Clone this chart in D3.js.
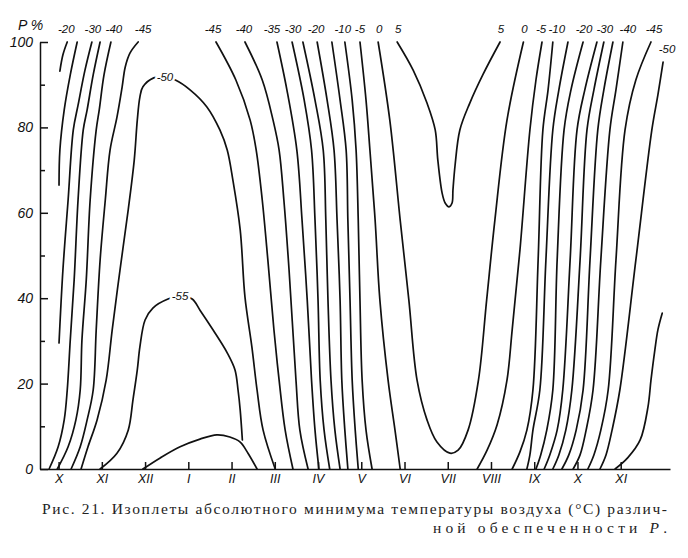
<!DOCTYPE html>
<html>
<head>
<meta charset="utf-8">
<title>Изоплеты абсолютного минимума температуры воздуха</title>
<script src="https://cdn.jsdelivr.net/npm/d3@7"></script>
<style>
  body { margin: 0; background: #fff; }
  .iso { fill: none; stroke: #111; stroke-width: 1.7; stroke-linecap: round; stroke-linejoin: round; }
  .lab { font-family: "Liberation Sans", Arial, sans-serif; font-style: italic; font-size: 11.5px; fill: #111; }
  .axis path, .axis line { stroke: #111; stroke-width: 1.5; }
  .axis text { font-family: "Liberation Sans", Arial, sans-serif; font-style: italic; fill: #111; }
  .caption { font-family: "Liberation Serif", "DejaVu Serif", serif; font-size: 15.5px; fill: #222; }
</style>
</head>
<body>
<svg id="chart" width="688" height="558"></svg>
<script>
// month ticks (Oct .. Nov of next year), probability ticks
const months = ["X", "XI", "XII", "I", "II", "III", "IV", "V", "VI", "VII", "VIII", "IX", "X", "XI"];
const pTicks = [0, 20, 40, 60, 80, 100];
const pMinor = [10, 30, 50, 70, 90];

// isopleths, points are [month index, P %]
// autumn/winter cooling (left)
const leftM20 = [[0.20,100],[0.10,97],[0.03,93.2]];
const leftM25 = [[0.43,100],[0.27,92.3],[0.13,84.1],[0.03,74.7],[0.01,66.5]];
const leftM30 = [[0.77,100],[0.61,93.4],[0.45,85.2],[0.34,79.4],[0.22,63],[0.10,46.6],[0.01,29.5]];
const leftM35 = [[0.96,100],[0.80,92.3],[0.66,84.1],[0.57,79.4],[0.45,63],[0.36,44.3],[0.27,30.2],[0.20,18.5],[0.13,11.5],[-0.01,5.2],[-0.22,0]];
const leftM40 = [[1.21,100],[1.05,92.3],[0.94,84.1],[0.87,79.4],[0.73,63],[0.64,44.3],[0.54,30.2],[0.50,18.5],[0.40,11.5],[0.22,5.2],[-0.03,0]];
const leftM45 = [[1.84,100],[1.65,97.4],[1.54,94.1],[1.47,89.5],[1.35,82.4],[1.19,74.7],[1.08,63],[0.96,48.9],[0.87,32.6],[0.80,18.5],[0.66,11.5],[0.50,5.2],[0.29,0]];

// winter cores
const winterM50 = [[0.52,0],[0.68,5.2],[0.89,11.5],[1.10,20.8],[1.24,32.6],[1.42,46.6],[1.61,60.7],[1.75,72.4],[1.82,81.7],[1.88,87.1],[1.95,89.5],[2.20,91.6],[2.46,91.8],[2.70,91.1],[3.04,88.8],[3.43,84.8],[3.73,79.4],[3.90,74.7],[4.03,67.7],[4.20,56],[4.31,40.3],[4.47,28.6],[4.59,18.5],[4.73,9.1],[5.01,0]];
const winterM55 = [[0.96,0],[1.35,3.7],[1.61,9.1],[1.72,16.2],[1.82,23.2],[1.88,28.6],[2.00,34.9],[2.18,37.7],[2.53,39.8],[2.81,40.5],[3.09,39.8],[3.27,37.2],[3.57,32.6],[3.90,27.2],[4.08,23.2],[4.15,18.5],[4.20,13.8],[4.25,6.8]];
const winterArch = [[1.95,0],[2.35,2.6],[2.81,5.2],[3.27,7],[3.66,8],[3.96,7.5],[4.20,6.3],[4.38,3.7],[4.59,0]];

// spring warming
const springM45 = [[3.64,100],[4.10,91.1],[4.43,81.7],[4.57,74.7],[4.71,63],[4.84,48.9],[4.98,32.6],[5.10,20.8],[5.24,9.1],[5.42,0]];
const springM40 = [[4.31,100],[4.71,91.1],[4.96,81.7],[5.10,74.7],[5.21,63],[5.33,46.6],[5.49,20.8],[5.58,9.1],[5.77,0]];
const springM35 = [[5.05,100],[5.28,88.8],[5.51,74.7],[5.63,58.3],[5.75,39.6],[5.85,20.8],[5.93,9.1],[6.02,0]];
const springM30 = [[5.40,100],[5.68,86.4],[5.85,74.7],[5.93,58.3],[6.00,39.6],[6.05,20.8],[6.14,9.1],[6.27,0]];
const springM25 = [[5.65,100],[5.93,86.4],[6.12,74.7],[6.18,58.3],[6.23,39.6],[6.30,20.8],[6.39,9.1],[6.51,0]];
const springM20 = [[5.98,100],[6.21,86.4],[6.37,74.7],[6.44,58.3],[6.51,39.6],[6.55,20.8],[6.62,9.1],[6.69,0]];
const springM15 = [[6.32,100],[6.51,86.4],[6.65,74.7],[6.69,58.3],[6.74,39.6],[6.79,20.8],[6.86,9.1],[6.93,0]];
const springM10 = [[6.62,100],[6.79,86.4],[6.88,74.7],[6.93,58.3],[6.97,39.6],[7.02,20.8],[7.11,9.1],[7.25,0]];
const springM5 = [[6.97,100],[7.11,86.4],[7.20,74.7],[7.32,58.3],[7.43,39.6],[7.62,20.8],[7.78,9.1],[7.90,0]];

// summer
const summer0 = [[7.39,100],[7.66,81.7],[7.90,58.3],[8.10,39.6],[8.29,20.8],[8.52,11.5],[8.75,6.3],[9.05,3.7],[9.24,4.4],[9.47,9.1],[9.71,20.8],[9.90,39.6],[10.09,58.3],[10.37,81.7],[10.75,100]];
const summer5 = [[7.83,100],[8.20,93.4],[8.52,85.7],[8.71,79.4],[8.77,72.4],[8.87,64.6],[8.94,62.3],[9.03,61.4],[9.10,62.3],[9.12,65.3],[9.17,71.2],[9.28,79.4],[9.51,85.7],[9.81,92.3],[10.21,100]];

// autumn cooling (right)
const autumnM5 = [[11.18,100],[11.04,91.1],[10.90,79.4],[10.67,51.3],[10.49,32.6],[10.37,20.8],[10.14,10.3],[9.91,4.4],[9.68,0]];
const autumnM10 = [[11.43,100],[11.32,88.8],[11.20,79.4],[11.09,48.9],[10.97,18.5],[10.83,9.1],[10.67,4],[10.49,0]];
const autumnM15 = [[11.78,100],[11.57,88.8],[11.43,79.4],[11.27,48.9],[11.13,18.5],[10.97,9.1],[10.90,3.3],[10.83,0]];
const autumnM20 = [[12.13,100],[11.85,88.8],[11.69,79.4],[11.53,48.9],[11.43,18.5],[11.29,9.1],[11.15,3.3],[11.04,0]];
const autumnM25 = [[12.45,100],[12.17,88.8],[11.99,79.4],[11.83,48.9],[11.66,18.5],[11.53,9.1],[11.36,3.3],[11.23,0]];
const autumnM30 = [[12.61,100],[12.38,88.8],[12.22,79.4],[12.06,48.9],[11.87,18.5],[11.73,9.1],[11.57,3.3],[11.43,0]];
const autumnM35 = [[12.82,100],[12.61,88.8],[12.47,79.4],[12.29,48.9],[12.13,18.5],[11.97,9.1],[11.80,3.3],[11.64,0]];
const autumnM40 = [[13.05,100],[12.89,88.8],[12.75,79.4],[12.54,48.9],[12.36,18.5],[12.20,9.1],[12.06,3.3],[11.90,0]];
const autumnM45 = [[13.70,100],[13.35,91.1],[13.10,79.4],[12.89,48.9],[12.71,18.5],[12.54,9.1],[12.38,3.3],[12.24,0]];
const autumnM50 = [[13.98,95.3],[13.86,87.6],[13.72,79.4],[13.35,48.9],[12.98,18.5],[12.80,9.1],[12.66,3.3],[12.52,0]];
const autumnM55 = [[13.96,36.5],[13.86,32.6],[13.79,27.9],[13.70,20.8],[13.63,14.5],[13.45,6.8],[13.16,2.6],[12.87,0]];

// which end (or inner point) carries the value label; dx nudges crowded labels
const isopleths = [
  {v: -20, pts: leftM20, lab: "start", dx: -2},
  {v: -25, pts: leftM25, lab: "none"},
  {v: -30, pts: leftM30, lab: "start"},
  {v: -35, pts: leftM35, lab: "none"},
  {v: -40, pts: leftM40, lab: "start", dx: 2},
  {v: -45, pts: leftM45, lab: "start", dx: 4},
  {v: -50, pts: winterM50, lab: "mid", at: 12},
  {v: -55, pts: winterM55, lab: "mid", at: 9},
  {v: -60, pts: winterArch, lab: "none"},
  {v: -45, pts: springM45, lab: "start", dx: -4},
  {v: -40, pts: springM40, lab: "start", dx: -2},
  {v: -35, pts: springM35, lab: "start", dx: -6},
  {v: -30, pts: springM30, lab: "start"},
  {v: -25, pts: springM25, lab: "none"},
  {v: -20, pts: springM20, lab: "start", dx: -2},
  {v: -15, pts: springM15, lab: "none"},
  {v: -10, pts: springM10, lab: "start", dx: -3},
  {v: -5, pts: springM5, lab: "start", dx: -1},
  {v: 0, pts: summer0, lab: "both"},
  {v: 5, pts: summer5, lab: "both"},
  {v: -5, pts: autumnM5, lab: "start", dx: -2},
  {v: -10, pts: autumnM10, lab: "start", dx: 3},
  {v: -15, pts: autumnM15, lab: "none"},
  {v: -20, pts: autumnM20, lab: "start"},
  {v: -25, pts: autumnM25, lab: "none"},
  {v: -30, pts: autumnM30, lab: "start"},
  {v: -35, pts: autumnM35, lab: "none"},
  {v: -40, pts: autumnM40, lab: "start", dx: 4},
  {v: -45, pts: autumnM45, lab: "start", dx: 2},
  {v: -50, pts: autumnM50, lab: "start", dx: 3},
  {v: -55, pts: autumnM55, lab: "none"}
];

const svg = d3.select("#chart");

const x = d3.scaleLinear([-0.43, 14.14], [40, 670]);
const y = d3.scaleLinear([0, 100], [469, 42]);

const line = d3.line()
  .x(d => x(d[0]))
  .y(d => y(d[1]))
  .curve(d3.curveCatmullRom.alpha(0.5));

// axes
svg.append("g")
  .attr("class", "axis")
  .attr("transform", "translate(40,0)")
  .call(d3.axisLeft(y).tickValues(pTicks).tickSizeInner(-8).tickSizeOuter(0).tickPadding(7))
  .call(g => g.selectAll("text").style("font-size", "14px"));

svg.append("g")
  .attr("class", "axis")
  .attr("transform", "translate(40,0)")
  .call(d3.axisLeft(y).tickValues(pMinor).tickSize(-5).tickFormat(""))
  .call(g => g.select(".domain").remove());

svg.append("g")
  .attr("class", "axis")
  .attr("transform", "translate(0,469)")
  .call(d3.axisBottom(x).tickValues(d3.range(months.length)).tickFormat(i => months[i])
    .tickSizeInner(-7).tickSizeOuter(0).tickPadding(5))
  .call(g => g.selectAll("text").style("font-size", "12.5px"));

svg.append("text")
  .attr("class", "lab")
  .attr("x", 18).attr("y", 30)
  .style("font-size", "14px")
  .text("P %");

// isopleths
svg.append("g")
  .selectAll("path")
  .data(isopleths)
  .join("path")
  .attr("class", "iso")
  .attr("d", d => line(d.pts));

// labels at the line ends
const endLabels = [];
isopleths.forEach(d => {
  if (d.lab === "start" || d.lab === "both") endLabels.push({v: d.v, p: d.pts[0], dx: d.dx || 0});
  if (d.lab === "end" || d.lab === "both") endLabels.push({v: d.v, p: d.pts[d.pts.length - 1], dx: d.dx || 0});
});

svg.append("g")
  .selectAll("text")
  .data(endLabels)
  .join("text")
  .attr("class", "lab")
  .attr("text-anchor", "middle")
  .attr("x", d => x(d.p[0]) + 1 + d.dx)
  .attr("y", d => y(d.p[1]) - 9)
  .text(d => String(d.v));

// labels sitting in the line
svg.append("g")
  .selectAll("text")
  .data(isopleths.filter(d => d.lab === "mid"))
  .join("text")
  .attr("class", "lab")
  .attr("text-anchor", "middle")
  .attr("x", d => x(d.pts[d.at][0]))
  .attr("y", d => y(d.pts[d.at][1]) + 4)
  .style("stroke", "#fff")
  .style("stroke-width", 5)
  .style("paint-order", "stroke")
  .text(d => String(d.v));

// caption
svg.append("text")
  .attr("class", "caption")
  .attr("x", 42).attr("y", 514)
  .attr("textLength", 625).attr("lengthAdjust", "spacing")
  .text("Рис. 21. Изоплеты абсолютного минимума температуры воздуха (°С) различ-");

const cap2 = svg.append("text")
  .attr("class", "caption")
  .attr("x", 433).attr("y", 533)
  .attr("textLength", 234).attr("lengthAdjust", "spacing");
cap2.append("tspan").text("ной обеспеченности ");
cap2.append("tspan").style("font-style", "italic").text("P");
cap2.append("tspan").text(".");
</script>
</body>
</html>
